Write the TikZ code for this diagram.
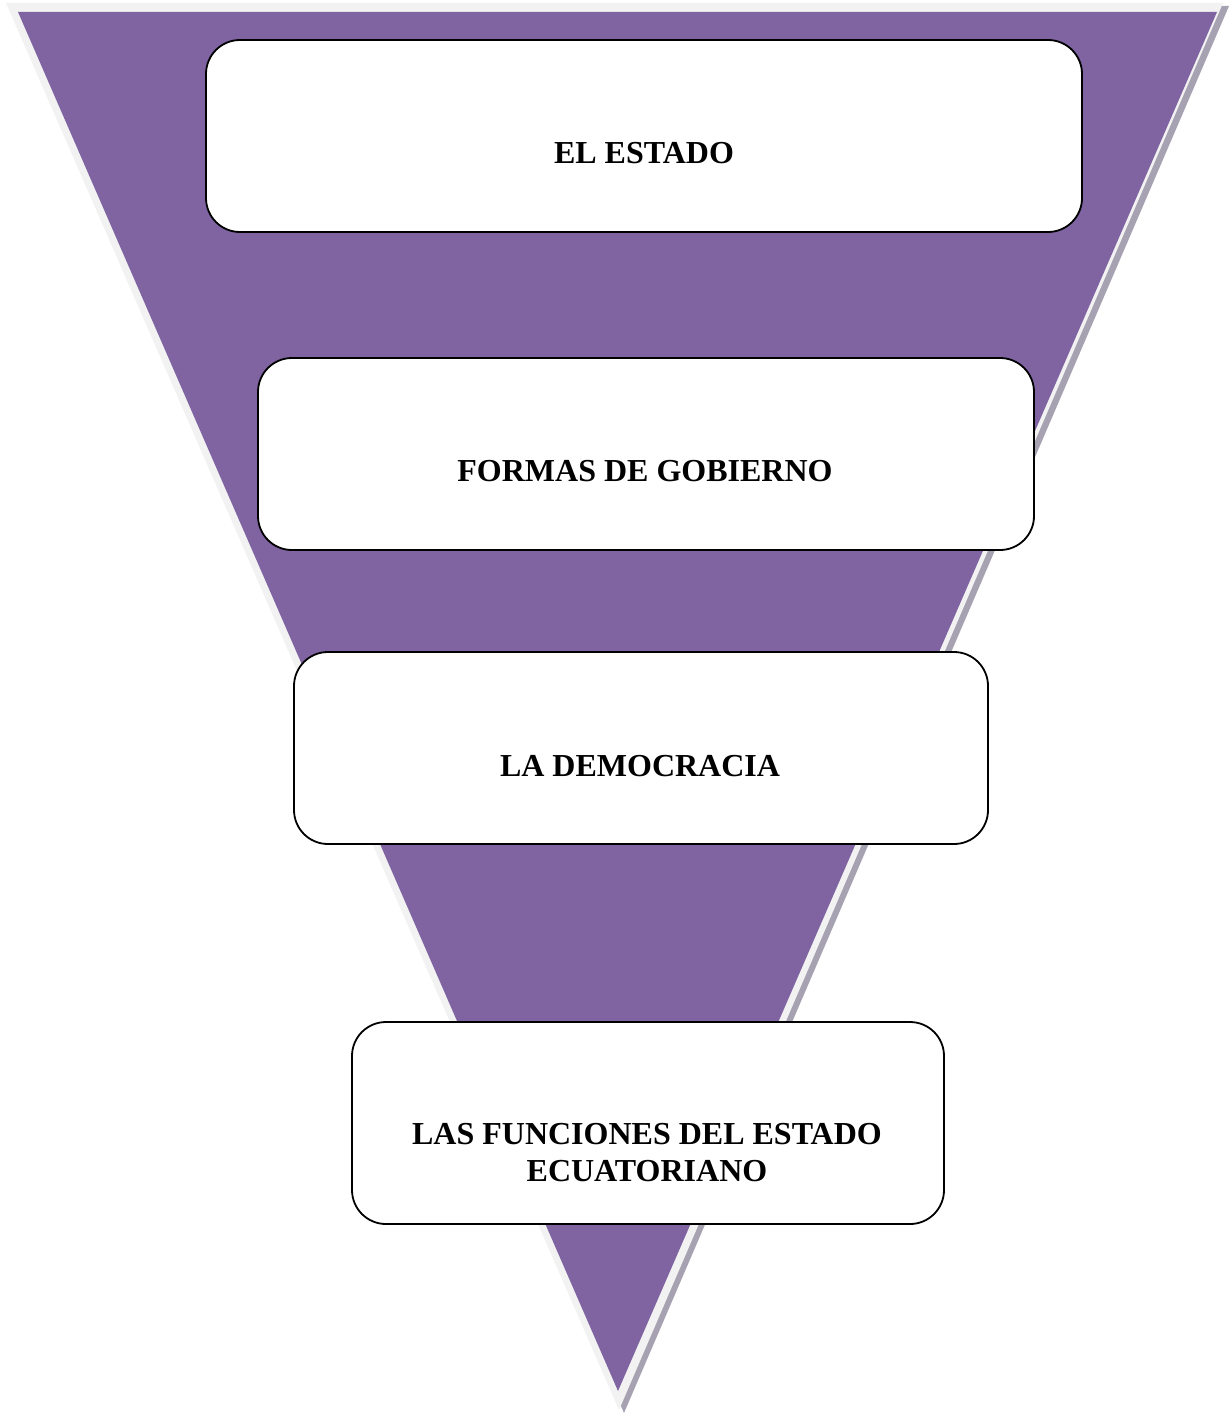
\documentclass[tikz,border=0pt]{standalone}
\usepackage{fontspec}
\setmainfont{Liberation Serif}
\usepackage{xcolor}
\usepackage{tikz}
\definecolor{funnelpurple}{HTML}{8064A2}
\definecolor{funnelrim}{HTML}{F2F2F2}
\definecolor{funnelshadow}{HTML}{A7A2B2}

\begin{document}
\begin{tikzpicture}[x=1pt,y=-1pt]
\tikzstyle{stage}=[draw, fill=white, line width=1.8pt, rounded corners=34pt, inner sep=0pt]
\tikzstyle{title}=[font=\fontsize{32}{37}\selectfont\bfseries, align=center, inner sep=0pt]
\useasboundingbox (0,0) rectangle (1230,1413);

% funnel
\fill[funnelshadow] (11,6) -- (1229,6) -- (624,1413) -- cycle;
\fill[funnelrim] (6,3) -- (1223,3) -- (619,1410) -- cycle;
\fill[funnelpurple] (18,12) -- (1217,12) -- (618,1391) -- cycle;

\node[stage, minimum width=876pt, minimum height=192pt] (estado) at (644,136) {};
\node[stage, minimum width=776pt, minimum height=192pt] (formas) at (646,454) {};
\node[stage, minimum width=694pt, minimum height=192pt] (democracia) at (641,748) {};
\node[stage, minimum width=592pt, minimum height=202pt] (funciones) at (648,1123) {};

\node[title] (testado) at (644,153) {EL ESTADO};
\node[title] (tformas) at (645,471) {FORMAS DE GOBIERNO};
\node[title] (tdemocracia) at (640,766) {LA DEMOCRACIA};
\node[title] (tfunciones) at (647,1153) {LAS FUNCIONES DEL ESTADO\\ECUATORIANO};

\end{tikzpicture}
\end{document}
